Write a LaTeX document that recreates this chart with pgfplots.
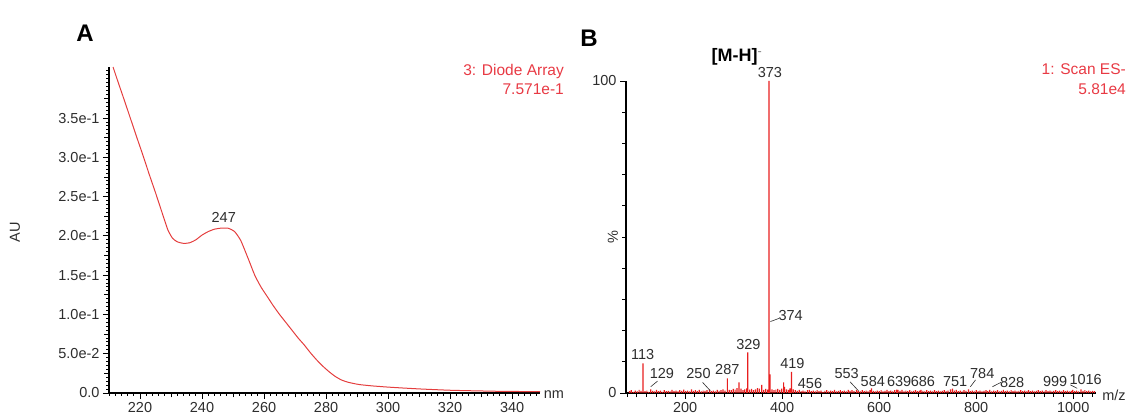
\documentclass[border=0pt]{standalone}
\usepackage{fontspec}
\setmainfont{Liberation Sans}
\usepackage{pgfplots}
\pgfplotsset{compat=1.18}
\usepackage{pgfplotstable}

\definecolor{specred}{RGB}{228,62,62}
\definecolor{msred}{RGB}{232,30,30}
\definecolor{annred}{RGB}{232,58,68}
\definecolor{ticktext}{RGB}{45,45,45}

% UV absorbance spectrum (diode array)
\pgfplotstableread{
nm au
211.3 0.415
213 0.395
215 0.372
217.3 0.345
219 0.325
221 0.302
223 0.278
225 0.255
227 0.231
229 0.2075
230.5 0.197
232 0.1925
234 0.1905
236 0.1912
238 0.195
240 0.201
242 0.2055
244 0.2085
246 0.2098
247 0.2100
248.5 0.2097
250.5 0.2055
252.5 0.194
255 0.170
257 0.150
259 0.135
261 0.123
263 0.111
265 0.100
267 0.090
269 0.080
271 0.070
273 0.061
275 0.051
277 0.042
279 0.034
281 0.027
283 0.021
285 0.0165
287 0.0138
289 0.0120
291 0.0106
295 0.0090
300 0.0075
305 0.0063
310 0.0052
315 0.0043
320 0.0035
325 0.0030
330 0.0026
335 0.0022
340 0.0020
345 0.0018
349 0.0017
}\uvdata

% ESI negative mass spectrum, relative intensity (%)
\pgfplotstableread{
mz rel
85 0.6
89 0.9
93 0.4
97 0.8
101 0.5
105 1.0
109 0.7
113 9.5
117 0.6
121 0.8
125 0.4
129 1.2
133 0.7
137 0.5
141 1.0
145 0.6
149 0.8
153 0.4
157 0.9
161 0.6
165 0.7
169 0.5
173 1.0
177 0.6
181 0.8
185 0.5
189 0.9
193 0.7
197 1.1
201 0.6
205 0.8
209 0.5
213 1.2
217 0.7
221 0.9
225 0.6
229 1.0
233 0.5
237 0.8
241 0.7
245 0.9
250 1.1
254 0.6
258 0.8
262 0.5
266 1.0
270 0.7
274 0.9
278 1.2
282 0.8
287 4.7
291 1.0
295 0.9
299 1.3
303 1.1
307 1.6
311 3.4
315 1.4
319 0.9
323 1.2
327 1.5
329 13.0
333 1.1
337 1.3
341 0.9
345 1.2
349 1.6
353 1.4
358 2.6
362 1.0
366 1.3
370 1.1
373 100
375 6.0
379 1.2
383 0.9
387 1.1
391 1.3
395 1.0
399 1.4
403 3.4
405 2.0
409 1.2
413 1.0
416 1.5
419 6.8
423 1.2
427 0.9
431 0.7
435 1.0
439 0.6
443 0.8
447 0.5
452 0.9
456 1.0
460 0.6
464 0.8
468 0.5
472 0.9
476 0.6
480 0.8
484 0.4
488 0.7
492 0.9
496 0.5
500 0.8
504 0.6
508 1.0
512 0.5
516 0.7
520 0.9
524 0.6
528 0.8
532 0.5
536 1.0
540 0.7
544 0.9
548 0.6
553 1.0
557 0.7
561 0.5
565 0.9
569 0.6
573 0.8
577 0.5
581 0.9
584 1.5
588 0.7
592 0.5
596 0.8
600 0.6
604 0.9
608 0.5
612 0.7
616 1.0
620 0.6
624 0.8
628 0.5
632 0.9
636 1.1
639 1.0
643 0.7
647 1.0
651 0.5
655 0.8
659 0.6
663 0.9
667 0.5
671 0.7
675 0.9
679 0.6
683 0.8
686 1.0
690 0.7
694 0.5
698 0.9
702 0.6
706 0.8
710 0.5
714 0.9
718 0.6
722 0.8
726 0.5
730 0.7
734 0.9
738 0.6
742 0.8
747 1.2
751 1.4
755 0.8
759 1.0
763 0.6
767 0.8
771 0.5
775 0.9
779 0.7
784 1.2
788 0.6
792 0.8
796 0.5
800 0.9
804 0.6
808 0.8
812 0.5
816 0.7
820 0.9
824 0.6
828 1.0
832 0.5
836 0.8
840 0.6
844 0.9
848 0.5
852 0.7
856 1.0
860 0.6
864 0.8
868 0.5
872 0.9
876 0.6
880 0.8
884 0.5
888 0.7
892 0.9
896 0.6
900 0.8
904 0.5
908 0.9
912 0.6
916 0.8
920 0.5
924 0.7
928 0.9
932 0.6
936 0.8
940 0.5
944 0.9
948 0.6
952 0.8
956 0.5
960 0.7
964 0.9
968 0.6
972 0.8
976 0.5
980 0.9
984 0.6
988 0.8
992 0.5
996 0.7
999 1.0
1003 0.6
1007 0.8
1011 0.5
1016 1.2
1020 0.7
1024 0.9
1028 0.6
1032 0.8
1036 0.5
1040 0.7
1044 0.6
}\msdata

\tikzset{
  pk/.style={font=\fontsize{14.5}{16}\selectfont, text=ticktext, inner sep=0pt},
  lead/.style={ticktext, line width=0.6pt},
}

\pgfplotsset{
  spec/.style={
    scale only axis,
    axis lines=left,
    axis line style={-, line width=1.3pt, black},
    every outer x axis line/.append style={-},
    every outer y axis line/.append style={-},
    tick align=outside,
    tick style={black, line width=0.9pt},
    major tick length=6pt,
    minor tick length=3pt,
    tick label style={font=\fontsize{14.5}{16}\selectfont, text=ticktext},
    /pgf/number format/assume math mode=true,
    clip=false,
  },
}

\begin{document}
\begin{tikzpicture}
\useasboundingbox (0pt,0pt) rectangle (1131pt,417pt);

% ---------- A: UV spectrum ----------
\begin{axis}[spec, at={(109pt,24pt)}, anchor=south west,
  width=431pt, height=326pt,
  xmin=210, xmax=349, ymin=0, ymax=0.415,
  xtick={220,240,...,340},
  xticklabels={220,240,260,280,300,320,340},
  minor xtick={210,212,...,348},
  extra x ticks={230,250,...,330},
  extra x tick labels={},
  extra x tick style={major tick length=4.5pt},
  ytick={0,0.05,0.1,0.15,0.2,0.25,0.3,0.35},
  yticklabels={0.0,5.0e-2,1.0e-1,1.5e-1,2.0e-1,2.5e-1,3.0e-1,3.5e-1},
  minor ytick={0.005,0.01,...,0.41},
  extra y ticks={0.025,0.075,0.125,0.175,0.225,0.275,0.325,0.375},
  extra y tick labels={},
  extra y tick style={major tick length=4.5pt},
]
\addplot[specred, line width=1pt, smooth, tension=0.35] table[x=nm, y=au]{\uvdata};
\node[pk, anchor=south] at (axis cs:247,0.2100) [yshift=5pt] {247};
\end{axis}

% ---------- B: mass spectrum ----------
\begin{axis}[spec, at={(626pt,24pt)}, anchor=south west,
  width=470pt, height=312pt,
  xmin=78, xmax=1047, ymin=0, ymax=100,
  xtick={200,400,...,1000},
  xticklabels={200,400,600,800,1000},
  minor xtick={80,100,...,1040},
  extra x ticks={100,300,500,700,900},
  extra x tick labels={},
  extra x tick style={major tick length=4.5pt},
  ytick={0,100}, yticklabels={0,100},
  minor ytick={10,20,...,90},
  minor tick length=4pt,
]
\addplot[ybar, bar width=1.2pt, bar shift=0pt, fill=msred, draw=none] table[x=mz, y=rel]{\msdata};

\node[pk] at (axis cs:112.2,12.4) {113};
\node[pk] at (axis cs:151.9,6.1) {129};
\node[pk] at (axis cs:227.4,6.1) {250};
\node[pk] at (axis cs:286.8,7.6) {287};
\node[pk] at (axis cs:330.3,15.6) {329};
\node[pk] at (axis cs:374.6,102.6) {373};
\node[pk] at (axis cs:417.5,24.8) {374};
\node[pk] at (axis cs:421,9.5) {419};
\node[pk] at (axis cs:457.3,3.1) {456};
\node[pk] at (axis cs:533,6.1) {553};
\node[pk] at (axis cs:586.8,3.8) {584};
\node[pk] at (axis cs:641.2,3.6) {639};
\node[pk] at (axis cs:690.1,3.6) {686};
\node[pk] at (axis cs:756.5,3.6) {751};
\node[pk] at (axis cs:812.4,6.3) {784};
\node[pk] at (axis cs:874,3.4) {828};
\node[pk] at (axis cs:962.9,3.6) {999};
\node[pk] at (axis cs:1025.6,4.2) {1016};

\draw[lead] (axis cs:128.9,2.0) -- (axis cs:142.9,3.8);
\draw[lead] (axis cs:235.9,3.4) -- (axis cs:251.9,0.7);
\draw[lead] (axis cs:375.7,22.9) -- (axis cs:393.2,23.9);
\draw[lead] (axis cs:539.8,3.6) -- (axis cs:557.3,0.7);
\draw[lead] (axis cs:788,2.0) -- (axis cs:798.6,4.2);
\draw[lead] (axis cs:833.4,2.0) -- (axis cs:850.9,3.4);
\draw[lead] (axis cs:994.2,2.6) -- (axis cs:1008.2,1.5);

\node[inner sep=0pt, font=\fontsize{18}{20}\selectfont\bfseries] at (axis cs:307,107.7)
  {[M-H]\textsuperscript{\mdseries\color{gray}-}};
\end{axis}

% panel letters, axis names and trace headers
\node[font=\fontsize{24}{28}\selectfont\bfseries, inner sep=0pt] at (85pt,384pt) {A};
\node[font=\fontsize{24}{28}\selectfont\bfseries, inner sep=0pt] at (589pt,379pt) {B};

\node[font=\fontsize{14.5}{16}\selectfont, text=ticktext, rotate=90, inner sep=0pt] at (15pt,185pt) {AU};
\node[font=\fontsize{14.5}{16}\selectfont, text=ticktext, rotate=90, inner sep=0pt] at (613pt,180pt) {\%};
\node[font=\fontsize{14.5}{16}\selectfont, text=ticktext, inner sep=0pt] at (554pt,22pt) {nm};
\node[font=\fontsize{14.5}{16}\selectfont, text=ticktext, inner sep=0pt] at (1114pt,22pt) {m/z};

\node[font=\fontsize{15.5}{17}\selectfont, text=annred, anchor=east, inner sep=0pt] at (564pt,346pt) {3: Diode Array};
\node[font=\fontsize{15.5}{17}\selectfont, text=annred, anchor=east, inner sep=0pt] at (564pt,328pt) {7.571e-1};
\node[font=\fontsize{15.5}{17}\selectfont, text=annred, anchor=east, inner sep=0pt] at (1126pt,348pt) {1: Scan ES-};
\node[font=\fontsize{15.5}{17}\selectfont, text=annred, anchor=east, inner sep=0pt] at (1126pt,328pt) {5.81e4};
\end{tikzpicture}
\end{document}
